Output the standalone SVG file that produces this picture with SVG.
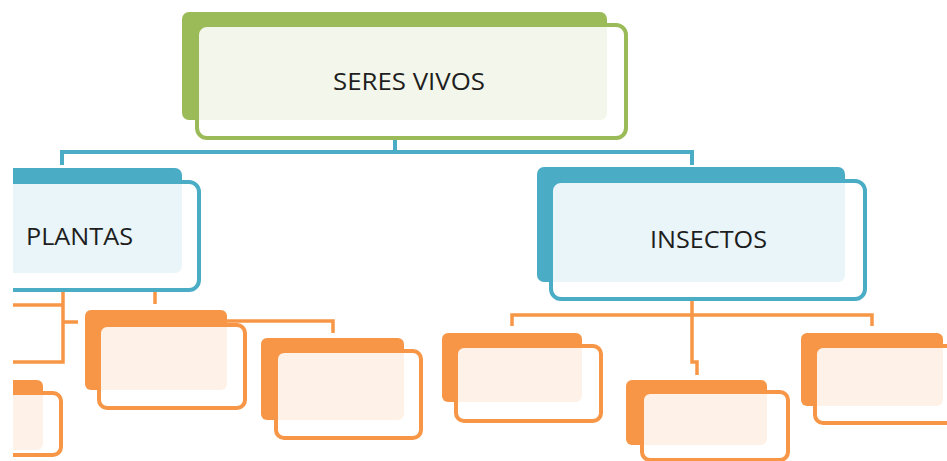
<svg xmlns="http://www.w3.org/2000/svg" width="947" height="461" viewBox="0 0 947 461">
  <defs>
    <clipPath id="clip"><rect x="13" y="0" width="934" height="461"/></clipPath>
  </defs>
  <style>
    .front { fill: #ffffff; fill-opacity: 0.88; stroke-width: 4; }
    .g-back { fill: #9BBB59; }
    .g-front { stroke: #9BBB59; }
    .b-back { fill: #4BACC6; }
    .b-front { stroke: #4BACC6; }
    .o-back { fill: #F79646; }
    .o-front { stroke: #F79646; }
    .label { font-family: "Open Sans", "Liberation Sans", sans-serif; font-size: 24px; fill: #1e1e1e; }
    .blue-line { fill: none; stroke: #4BACC6; stroke-width: 4; }
    .orange-line { fill: none; stroke: #F79646; stroke-width: 3.5; }
  </style>
  <rect width="947" height="461" fill="#ffffff"/>
  <g clip-path="url(#clip)">
    <g id="connectors">
      <path class="blue-line" d="M62,165 V152 H692 V165 M395,140 V152"/>
      <path class="orange-line" d="M512,326 V315 H872 V326 M692,301 V362 H697 V375"/>
      <path class="orange-line" d="M63,292 V362 H0 M63,305 H0 M63,322 H78 M155,292 V304 M227,321 H333 V333"/>
    </g>
    <g id="seres-vivos">
      <rect class="g-back" x="182" y="12" width="425" height="108" rx="7"/>
      <rect class="front g-front" x="197" y="25" width="429" height="113" rx="10"/>
      <text class="label" x="409" y="90" text-anchor="middle" textLength="152" lengthAdjust="spacingAndGlyphs">SERES VIVOS</text>
    </g>
    <g id="plantas">
      <rect class="b-back" x="-20" y="168" width="202" height="105" rx="7"/>
      <rect class="front b-front" x="-20" y="182" width="219" height="108" rx="10"/>
      <text class="label" x="26" y="245" textLength="107" lengthAdjust="spacingAndGlyphs">PLANTAS</text>
    </g>
    <g id="insectos">
      <rect class="b-back" x="537" y="167" width="308" height="115" rx="7"/>
      <rect class="front b-front" x="551" y="181" width="314" height="118" rx="10"/>
      <text class="label" x="708.5" y="248" text-anchor="middle" textLength="117" lengthAdjust="spacingAndGlyphs">INSECTOS</text>
    </g>
    <g id="plantas-child-1">
      <rect class="o-back" x="85" y="310" width="142" height="80" rx="6"/>
      <rect class="front o-front" x="99" y="325" width="146" height="83" rx="8"/>
    </g>
    <g id="plantas-child-2">
      <rect class="o-back" x="261" y="338" width="143" height="82" rx="6"/>
      <rect class="front o-front" x="276" y="351" width="145" height="87" rx="8"/>
    </g>
    <g id="plantas-child-3">
      <rect class="o-back" x="-20" y="380" width="63" height="70" rx="6"/>
      <rect class="front o-front" x="-20" y="393" width="81" height="62" rx="8"/>
    </g>
    <g id="insectos-child-1">
      <rect class="o-back" x="442" y="333" width="140" height="69" rx="6"/>
      <rect class="front o-front" x="456" y="346" width="145" height="75" rx="8"/>
    </g>
    <g id="insectos-child-2">
      <rect class="o-back" x="626" y="380" width="141" height="65" rx="6"/>
      <rect class="front o-front" x="642" y="392" width="146" height="68" rx="8"/>
    </g>
    <g id="insectos-child-3">
      <rect class="o-back" x="801" y="333" width="142" height="73" rx="6"/>
      <rect class="front o-front" x="815" y="346" width="150" height="77" rx="8"/>
    </g>
  </g>
</svg>
